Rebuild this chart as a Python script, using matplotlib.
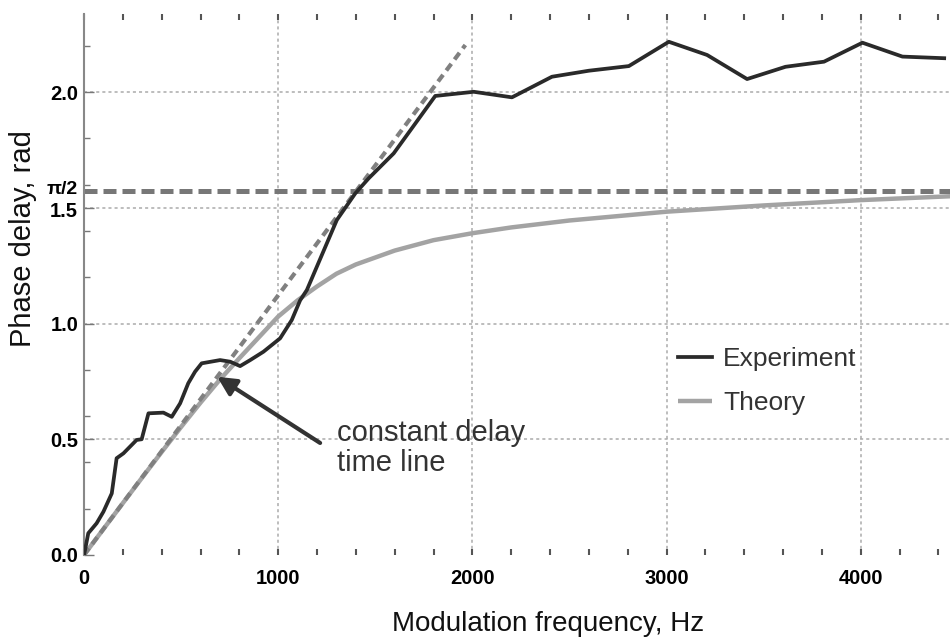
import numpy as np
import matplotlib

matplotlib.use("Agg")
import matplotlib.pyplot as plt
from matplotlib.ticker import MultipleLocator

plt.rcParams["font.family"] = ["Liberation Sans", "DejaVu Sans"]

# experiment
exp_freq = [0, 5, 22, 65, 100, 143, 168, 203, 237, 271, 297, 332, 409, 452, 495,
            537, 572, 606, 701, 753, 804, 856, 924, 1010, 1070, 1113, 1148, 1302,
            1397, 1466, 1595, 1809, 2007, 2204, 2410, 2600, 2806, 3012, 3209,
            3415, 3613, 3811, 4009, 4215, 4430]
exp_phase = [0.0, 0.02, 0.094, 0.137, 0.187, 0.266, 0.418, 0.439, 0.468, 0.497,
             0.500, 0.612, 0.615, 0.597, 0.655, 0.742, 0.792, 0.828, 0.842, 0.835,
             0.816, 0.842, 0.878, 0.936, 1.015, 1.10, 1.145, 1.447, 1.562, 1.627,
             1.735, 1.983, 2.001, 1.977, 2.066, 2.092, 2.112, 2.217, 2.160, 2.056,
             2.109, 2.131, 2.213, 2.153, 2.146]

# theory curve
th_freq = [0, 100, 200, 300, 400, 500, 600, 700, 800, 900, 1000, 1100, 1200, 1300,
           1400, 1500, 1600, 1800, 2000, 2200, 2500, 3000, 3500, 4000, 4470]
th_phase = [0.0, 0.112, 0.224, 0.335, 0.445, 0.553, 0.658, 0.758, 0.85, 0.94, 1.03,
            1.10, 1.16, 1.215, 1.255, 1.285, 1.315, 1.36, 1.39, 1.415, 1.445, 1.483,
            1.51, 1.533, 1.55]

# constant delay time line endpoints
line_freq = [0, 1964]
line_phase = [0.0, 2.203]

HALF_PI = np.pi / 2

fig = plt.figure(figsize=(9.5, 6.37), dpi=100)
ax = fig.add_axes([84 / 950, 82 / 637, 866 / 950, 541 / 637])

ax.plot(th_freq, th_phase, color="#a3a3a3", lw=3.2, solid_capstyle="butt",
        label="Theory", zorder=3)
ax.plot(line_freq, line_phase, color="#808080", lw=3.0, ls=(0, (2.0, 1.3)), zorder=4)
ax.plot(exp_freq, exp_phase, color="#2a2a2a", lw=2.7, label="Experiment", zorder=5)
ax.axhline(HALF_PI, color="#777777", lw=3.6, ls=(0, (2.6, 1.2)), zorder=2)

ax.set_xlim(0, 4460)
ax.set_ylim(0, 2.337)

ax.set_xticks([0, 1000, 2000, 3000, 4000])
ax.xaxis.set_minor_locator(MultipleLocator(200))
ax.set_yticks([0.0, 0.5, 1.0, 1.5, HALF_PI, 2.0])
ax.set_yticklabels(["0.0", "0.5", "1.0", "", "", "2.0"])
ax.yaxis.set_minor_locator(MultipleLocator(0.2))

for lab in ax.get_xticklabels() + ax.get_yticklabels():
    lab.set_fontweight("bold")
    lab.set_fontsize(14.5)

# the two close labels, nudged apart a little
ytrans = ax.get_yaxis_transform()
ax.text(-0.007, HALF_PI + 0.008, "π/2", transform=ytrans, ha="right", va="center",
        fontsize=14, fontweight="bold")
ax.text(-0.007, 1.5 - 0.018, "1.5", transform=ytrans, ha="right", va="center",
        fontsize=14.5, fontweight="bold")

ax.tick_params(axis="x", which="both", direction="in", top=True, bottom=True,
               length=4, width=1.5, color="#555555", pad=10)
ax.tick_params(axis="y", which="major", direction="in", length=7, width=1,
               color="#777777", pad=4)
ax.tick_params(axis="y", which="minor", direction="in", length=4, width=1,
               color="#777777")

ax.grid(True, which="major", color="#ababab", ls=(0, (2, 2)), lw=1.1)
ax.get_ygridlines()[4].set_visible(False)
ax.get_ygridlines()[0].set_visible(False)
ax.get_xgridlines()[0].set_visible(False)

for side in ["top", "right", "bottom"]:
    ax.spines[side].set_visible(False)
ax.spines["left"].set_color("#888888")
ax.spines["left"].set_linewidth(1.5)

ax.set_xlabel("Modulation frequency, Hz", fontsize=20, color="#111111")
ax.set_ylabel("Phase delay, rad", fontsize=21, color="#111111")
ax.xaxis.set_label_coords((548 - 84) / 866, (555 - 611) / 541)
ax.yaxis.set_label_coords((37 - 84) / 866, (555 - 239) / 541)

handles, labels = ax.get_legend_handles_labels()
leg = ax.legend(handles[::-1], labels[::-1], loc="upper left",
                bbox_to_anchor=(0.686, 0.384), frameon=False, fontsize=19,
                borderpad=0, borderaxespad=0, handlelength=1.3,
                handletextpad=0.4, labelspacing=0.75)
for t in leg.get_texts():
    t.set_color("#333333")

ax.text(1303, 0.462, "constant delay\ntime line", fontsize=21, color="#333333",
        ha="left", va="center", linespacing=1.1)
ax.annotate("", xy=(686, 0.77), xytext=(1216, 0.484),
            arrowprops=dict(arrowstyle="-|>", lw=3, color="#333333",
                            mutation_scale=28, shrinkA=0, shrinkB=0),
            zorder=6)

fig.savefig("out.png", dpi=100)
